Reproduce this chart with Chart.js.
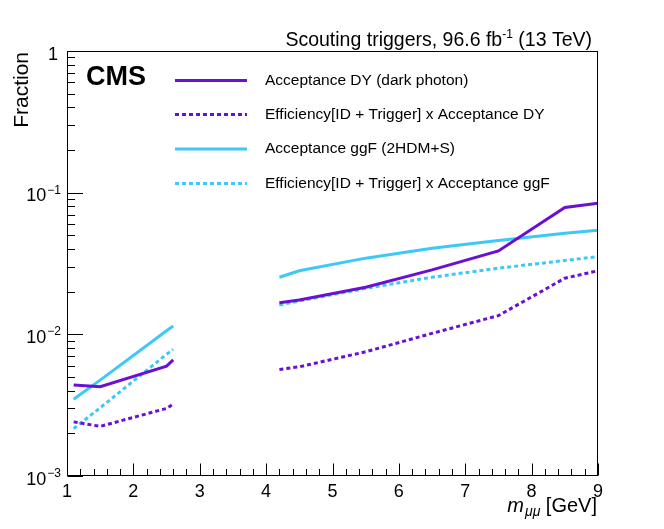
<!DOCTYPE html>
<html>
<head>
<meta charset="utf-8">
<script src="https://cdn.jsdelivr.net/npm/chart.js@4.4.0/dist/chart.umd.min.js"></script>
<style>
html,body{margin:0;padding:0;background:#fff;}
#wrap{width:664px;height:529px;position:relative;}
</style>
</head>
<body>
<div id="wrap"><canvas id="c" width="664" height="529"></canvas></div>
<script>
// ---- data ----
const masses        = [1.1,     1.5,     2.5,     2.6,     3.4,  4.2,     4.5,    5.5,     6.5,     7.5,     8.5,    9.0];
const accDY         = [0.00439, 0.00427, 0.00597, 0.0066,  null, 0.0167,  0.0175, 0.0215,  0.0285,  0.0388,  0.0785, 0.0843];
const effAccDY      = [0.00241, 0.00224, 0.0030,  0.00322, null, 0.00565, 0.0059, 0.00753, 0.01016, 0.01356, 0.0249, 0.0281];
const accGGF        = [0.00348, 0.00475, 0.0106,  0.01146, null, 0.0253,  0.0281, 0.0345,  0.0405,  0.0459,  0.0518, 0.0543];
const effAccGGF     = [0.00216, 0.00303, 0.00723, 0.00783, null, 0.0161,  0.0172, 0.0211,  0.0253,  0.0293,  0.0332, 0.0354];
const seriesLabels  = ["Acceptance DY (dark photon)",
                       "Efficiency[ID + Trigger] x Acceptance DY",
                       "Acceptance ggF (2HDM+S)",
                       "Efficiency[ID + Trigger] x Acceptance ggF"];
const xTickValues   = [1,2,3,4,5,6,7,8,9];
const yTickValues   = [0.001, 0.01, 0.1, 1];
const yTickLabels   = [["10","\u22123"],["10","\u22122"],["10","\u22121"],["1",""]];

const PURPLE = '#6a10d4';
const CYAN   = '#3ec8f8';
const FONT   = '"Liberation Sans", Arial, Helvetica, sans-serif';

function pts(vals){ return masses.map((m,i)=>({x:m, y:vals[i]})); }

const datasets = [
  {label:seriesLabels[0], data:pts(accDY),     borderColor:PURPLE, borderWidth:3, borderDash:[]},
  {label:seriesLabels[1], data:pts(effAccDY),  borderColor:PURPLE, borderWidth:3, borderDash:[4,3]},
  {label:seriesLabels[2], data:pts(accGGF),    borderColor:CYAN,   borderWidth:3, borderDash:[]},
  {label:seriesLabels[3], data:pts(effAccGGF), borderColor:CYAN,   borderWidth:3, borderDash:[4,3]},
].map(d=>Object.assign(d,{pointRadius:0, fill:false, tension:0, spanGaps:false, borderCapStyle:'butt'}));

const decor = {
  id:'decor',
  afterDraw(chart){
    const ctx = chart.ctx, a = chart.chartArea;
    const xs = chart.scales.x, ys = chart.scales.y;
    ctx.save();
    // frame
    ctx.strokeStyle = '#000'; ctx.lineWidth = 1;
    ctx.strokeRect(Math.round(a.left)+0.5, Math.round(a.top)+0.5, Math.round(a.right-a.left)-1, Math.round(a.bottom-a.top)-1);
    // x ticks (inside, from bottom)
    ctx.beginPath();
    const xb = Math.round(a.bottom)-0.5;
    for (let i=0;i<xTickValues.length;i++){
      const v = xTickValues[i];
      let px = Math.round(xs.getPixelForValue(v))+0.5;
      ctx.moveTo(px, xb); ctx.lineTo(px, xb-12);
      if (i<xTickValues.length-1){
        for (let k=1;k<5;k++){
          px = Math.round(xs.getPixelForValue(v+k*0.2))+0.5;
          ctx.moveTo(px, xb); ctx.lineTo(px, xb-6.5);
        }
      }
    }
    // y ticks (inside, from left)
    const yl = Math.round(a.left)+0.5;
    for (let i=0;i<yTickValues.length;i++){
      const v = yTickValues[i];
      let py = Math.round(ys.getPixelForValue(v))+0.5;
      ctx.moveTo(yl, py); ctx.lineTo(yl+15.5, py);
      if (i<yTickValues.length-1){
        for (let k=2;k<10;k++){
          py = Math.round(ys.getPixelForValue(v*k))+0.5;
          ctx.moveTo(yl, py); ctx.lineTo(yl+7.5, py);
        }
      }
    }
    ctx.stroke();
    // y tick labels with superscripts
    ctx.fillStyle = '#000';
    ctx.textBaseline = 'alphabetic';
    for (let i=0;i<yTickValues.length;i++){
      const py = ys.getPixelForValue(yTickValues[i]);
      const [base, sup] = yTickLabels[i];
      ctx.font = '18px ' + FONT;
      const rightX = a.left - 6;
      if (sup){
        ctx.font = '12px ' + FONT;
        const sw = ctx.measureText(sup).width;
        ctx.textAlign = 'right';
        ctx.fillText(sup, rightX, py + 1);
        ctx.font = '18px ' + FONT;
        ctx.fillText(base, rightX - sw - 1, py + 8.5);
      } else {
        ctx.textAlign = 'right';
        ctx.fillText(base, rightX - 3, py + 8.5);
      }
    }
    // header
    ctx.textAlign = 'left';
    const HF = '19.5px ';
    const h1 = 'Scouting triggers, 96.6 fb', h2 = '-1', h3 = ' (13 TeV)';
    ctx.font = HF + FONT; const w1 = ctx.measureText(h1).width, w3 = ctx.measureText(h3).width;
    ctx.font = '12px ' + FONT; const w2 = ctx.measureText(h2).width;
    let hx = 592 - (w1 + w2 + w3);
    const hy = 46;
    ctx.font = HF + FONT; ctx.fillText(h1, hx, hy);
    ctx.font = '12px ' + FONT; ctx.fillText(h2, hx + w1, hy - 8);
    ctx.font = HF + FONT; ctx.fillText(h3, hx + w1 + w2, hy);
    // CMS
    ctx.font = 'bold 27px ' + FONT;
    ctx.fillText('CMS', 86, 85);
    // y title
    ctx.save();
    ctx.translate(28, 52);
    ctx.rotate(-Math.PI/2);
    ctx.font = '21px ' + FONT;
    ctx.textAlign = 'right';
    ctx.fillText('Fraction', 0, 0);
    ctx.restore();
    // x title: m_{μμ} [GeV]
    ctx.textAlign = 'left';
    const t1 = 'm', t2 = '\u03BC\u03BC', t3 = ' [GeV]';
    ctx.font = 'italic 20px ' + FONT; const tw1 = ctx.measureText(t1).width;
    ctx.font = 'italic 14px ' + FONT; const tw2 = ctx.measureText(t2).width;
    ctx.font = '20px ' + FONT; const tw3 = ctx.measureText(t3).width;
    let tx = 597 - (tw1 + tw2 + tw3 + 1);
    const ty = 512;
    ctx.font = 'italic 20px ' + FONT; ctx.fillText(t1, tx, ty);
    ctx.font = 'italic 14px ' + FONT; ctx.fillText(t2, tx + tw1 + 1, ty + 4);
    ctx.font = '20px ' + FONT; ctx.fillText(t3, tx + tw1 + tw2 + 1, ty);
    // legend
    const rows = [80.5, 114.5, 149, 183.5];
    chart.data.datasets.forEach((ds, i) => {
      const y = rows[i];
      ctx.save();
      ctx.strokeStyle = ds.borderColor; ctx.lineWidth = 3;
      ctx.setLineDash(ds.borderDash || []);
      ctx.beginPath(); ctx.moveTo(175, y); ctx.lineTo(247, y); ctx.stroke();
      ctx.restore();
      ctx.fillStyle = '#000';
      ctx.font = '15.5px ' + FONT;
      ctx.textBaseline = 'middle';
      ctx.fillText(ds.label, 265, y);
    });
    ctx.restore();
  }
};

new Chart(document.getElementById('c'), {
  type:'line',
  data:{datasets},
  options:{
    responsive:false, animation:false,
    devicePixelRatio:1,
    layout:{padding:{left:0, right:66, top:51, bottom:0}},
    plugins:{legend:{display:false}, tooltip:{enabled:false}, title:{display:false}},
    scales:{
      x:{type:'linear', min:1, max:9,
         afterBuildTicks(s){ s.ticks = xTickValues.map(v=>({value:v})); },
         afterFit(s){ s.height = 53; },
         grid:{display:false, drawTicks:false}, border:{display:false},
         ticks:{color:'#000', font:{family:FONT, size:18}, padding:5, maxRotation:0, autoSkip:false,
                callback:(v)=>String(v)}},
      y:{type:'logarithmic', min:0.001, max:1,
         afterBuildTicks(s){ s.ticks = yTickValues.map(v=>({value:v})); },
         afterFit(s){ s.width = 67; },
         grid:{display:false, drawTicks:false}, border:{display:false},
         ticks:{display:false}}
    }
  },
  plugins:[decor]
});
</script>
</body>
</html>
